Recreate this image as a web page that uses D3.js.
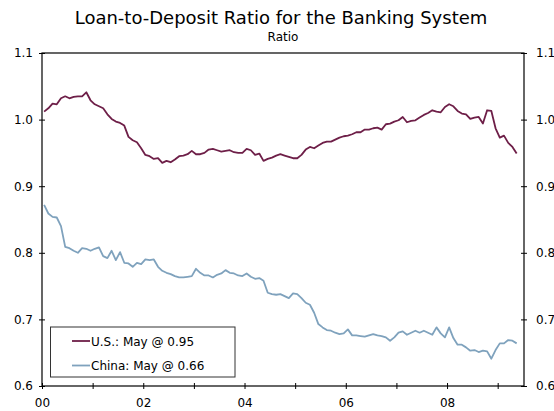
<!DOCTYPE html>
<html><head><meta charset="utf-8">
<script src="https://cdn.jsdelivr.net/npm/d3@7"></script>
<style>body{margin:0;background:#fff}svg{display:block}text{font-family:"DejaVu Sans",Verdana,sans-serif;fill:#000}</style>
</head><body><div id="chart"></div>
<script>
// Monthly data, Jan 2000 .. May 2009
const startYear = 2000;
const usValues = [1.012,1.017,1.024,1.023,1.032,1.035,1.032,1.034,1.035,1.035,1.041,1.029,
1.023,1.020,1.017,1.008,1.001,0.997,0.995,0.991,0.974,0.969,0.966,0.957,
0.947,0.945,0.941,0.942,0.935,0.938,0.936,0.940,0.945,0.946,0.948,0.953,
0.948,0.948,0.950,0.955,0.956,0.954,0.952,0.953,0.954,0.951,0.950,0.950,
0.956,0.954,0.947,0.949,0.938,0.941,0.943,0.946,0.948,0.946,0.944,0.942,
0.942,0.947,0.955,0.959,0.957,0.961,0.965,0.967,0.967,0.970,0.973,0.975,
0.976,0.978,0.981,0.981,0.985,0.985,0.987,0.988,0.985,0.993,0.994,0.997,
0.999,1.004,0.996,0.998,0.999,1.003,1.007,1.010,1.014,1.012,1.011,1.019,
1.023,1.020,1.013,1.009,1.008,1.001,1.003,1.004,0.994,1.014,1.013,0.987,
0.973,0.976,0.965,0.959,0.949];
const chinaValues = [0.872,0.859,0.854,0.853,0.840,0.809,0.807,0.803,0.800,0.807,0.806,0.803,
0.806,0.808,0.795,0.792,0.803,0.789,0.801,0.785,0.784,0.779,0.785,0.783,
0.790,0.789,0.790,0.779,0.773,0.770,0.768,0.765,0.763,0.763,0.764,0.765,
0.776,0.770,0.766,0.766,0.763,0.767,0.769,0.774,0.770,0.769,0.766,0.765,
0.769,0.764,0.761,0.762,0.758,0.740,0.738,0.737,0.738,0.735,0.732,0.739,
0.738,0.732,0.725,0.722,0.710,0.693,0.688,0.684,0.683,0.680,0.678,0.679,
0.685,0.676,0.676,0.675,0.674,0.676,0.678,0.676,0.675,0.673,0.668,0.673,
0.680,0.682,0.677,0.680,0.683,0.680,0.683,0.680,0.677,0.688,0.679,0.673,
0.688,0.672,0.662,0.662,0.658,0.653,0.654,0.651,0.653,0.652,0.641,0.654,
0.664,0.664,0.669,0.668,0.664];
const seriesNames = ["U.S.: May @ 0.95","China: May @ 0.66"];
const seriesColors = ["#6e1f48","#7fa2bd"];
const yTicks = [0.6,0.7,0.8,0.9,1.0,1.1];
const xTickYears = [2000,2001,2002,2003,2004,2005,2006,2007,2008,2009];
const xLabels = ["00","","02","","04","","06","","08",""];
const titleText = "Loan-to-Deposit Ratio for the Banking System";
const subtitleText = "Ratio";

const W=554,H=411;
const m={left:42,right:30,top:53,bottom:25};
const svg=d3.select("#chart").append("svg").attr("width",W).attr("height",H);
const x=d3.scaleLinear().domain([2000,2009.52]).range([m.left,W-m.right]);
const y=d3.scaleLinear().domain([0.6,1.1]).range([H-m.bottom,m.top]);
const x0=x.range()[0],x1=x.range()[1],y0=y.range()[0],y1=y.range()[1];

svg.append("text").attr("x",281).attr("y",24).attr("text-anchor","middle").attr("font-size",18).text(titleText);
svg.append("text").attr("x",283).attr("y",41).attr("text-anchor","middle").attr("font-size",12).text(subtitleText);

// frame
svg.append("rect").attr("x",x0).attr("y",y1).attr("width",x1-x0).attr("height",y0-y1)
  .attr("fill","none").attr("stroke","#000").attr("stroke-width",1.2);

function styleAxis(g){g.select(".domain").remove();g.selectAll(".tick line").attr("stroke","#000").attr("stroke-width",1);}
// left axis
const gl=svg.append("g").attr("transform",`translate(${x0},0)`)
  .call(d3.axisLeft(y).tickValues(yTicks).tickFormat(d3.format(".1f")).tickSize(3).tickPadding(6));
styleAxis(gl);
gl.selectAll(".tick line").attr("x1",-3).attr("x2",3);
gl.selectAll(".tick text").attr("font-size",12).attr("font-family","DejaVu Sans");
// right axis
const gr=svg.append("g").attr("transform",`translate(${x1},0)`)
  .call(d3.axisRight(y).tickValues(yTicks).tickFormat(d3.format(".1f")).tickSize(3).tickPadding(9));
styleAxis(gr);
gr.selectAll(".tick line").attr("x1",-3).attr("x2",3);
gr.selectAll(".tick text").attr("font-size",12).attr("font-family","DejaVu Sans");
// bottom axis
const gb=svg.append("g").attr("transform",`translate(0,${y0})`)
  .call(d3.axisBottom(x).tickValues(xTickYears).tickFormat((d,i)=>xLabels[i]).tickSize(3).tickPadding(9));
styleAxis(gb);
gb.selectAll(".tick line").attr("y1",-3).attr("y2",3);
gb.selectAll(".tick text").attr("font-size",12).attr("font-family","DejaVu Sans");

const line=d3.line().x((d,i)=>x(startYear+(i+0.5)/12)).y(d=>y(d));
[usValues,chinaValues].forEach((vals,k)=>{
  svg.append("path").datum(vals).attr("d",line).attr("fill","none")
    .attr("stroke",seriesColors[k]).attr("stroke-width",1.8).attr("stroke-linejoin","round");
});

// legend
const lg=svg.append("g");
lg.append("rect").attr("x",50.5).attr("y",327).attr("width",184.5).attr("height",50)
  .attr("fill","#fff").attr("stroke","#333").attr("stroke-width",1);
seriesNames.forEach((n,k)=>{
  const ly=341+k*24.5;
  lg.append("line").attr("x1",72).attr("x2",90).attr("y1",ly).attr("y2",ly).attr("stroke",seriesColors[k]).attr("stroke-width",1.8);
  lg.append("text").attr("x",91).attr("y",ly+4.5).attr("font-size",12).text(n);
});
</script></body></html>
